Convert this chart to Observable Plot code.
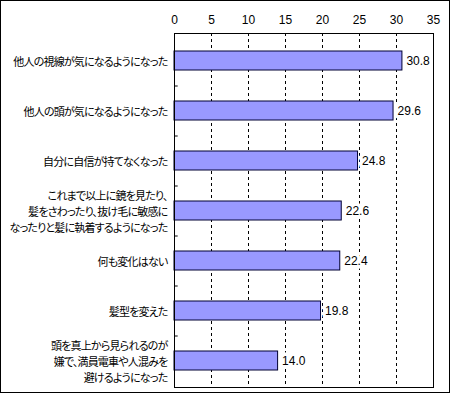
<!DOCTYPE html>
<html><head><meta charset="utf-8">
<script src="https://cdn.jsdelivr.net/npm/d3@7"></script>
<script src="https://cdn.jsdelivr.net/npm/@observablehq/plot@0.6"></script>
<style>
body{margin:0;background:#fff}
#chart svg{outline:1px solid #000;outline-offset:-1px;display:block}
.ylab text{font-feature-settings:"palt";letter-spacing:-0.8px}
</style>
</head><body><div id="chart"></div>
<script>
const categories = [
  "他人の視線が気になるようになった",
  "他人の頭が気になるようになった",
  "自分に自信が持てなくなった",
  "これまで以上に鏡を見たり、\n髪をさわったり、抜け毛に敏感に\nなったりと髪に執着するようになった",
  "何も変化はない",
  "髪型を変えた",
  "頭を真上から見られるのが\n嫌で、満員電車や人混みを\n避けるようになった"
];
const values = [30.8, 29.6, 24.8, 22.6, 22.4, 19.8, 14.0];
const xTicks = [0, 5, 10, 15, 20, 25, 30, 35];
const gridTicks = [5, 10, 15, 20, 25, 30];
const data = categories.map((c, i) => ({label: c, value: values[i]}));

function build(halfStep) {
  return Plot.plot({
    width: 450, height: 393,
    marginLeft: 174, marginRight: 17, marginTop: 33, marginBottom: 6,
    style: {fontFamily: "'Liberation Sans', Arial, sans-serif", fontSize: "12px", background: "#fff", color: "#000", overflow: "visible"},
    x: {domain: [0, 35]},
    y: {domain: categories, paddingInner: 0.62, paddingOuter: 0.31},
    marks: [
      Plot.ruleX(gridTicks, {stroke: "#000", strokeDasharray: "3,3", strokeOpacity: 1}),
      Plot.ruleY(categories.slice(1), {y: d => d, x1: 0, x2: 0.5, dy: -halfStep, stroke: "#000"}),
      Plot.barX(data, {y: "label", x: "value", fill: "#9999ff", stroke: "#000033", strokeWidth: 1}),
      Plot.text(data, {y: "label", x: "value", text: d => d.value.toFixed(1), dx: 4, textAnchor: "start", fontSize: 12, fill: "#000", stroke: "#fff", strokeWidth: 7, strokeLinejoin: "round", paintOrder: "stroke"}),
      Plot.axisX({anchor: "top", ticks: xTicks, tickSize: 0, tickPadding: 10, label: null, fontSize: 12}),
      Plot.axisY({anchor: "left", tickSize: 0, tickPadding: 7, label: null, fontSize: 11, lineHeight: 1.45,
        fontFamily: "'Noto Sans CJK JP', sans-serif", className: "ylab"}),
      Plot.frame({stroke: "#000"})
    ]
  });
}
const probe = build(0);
const step = probe.scale("y").step;
const chart = build(step / 2);
document.getElementById("chart").appendChild(chart);
</script>
</body></html>
